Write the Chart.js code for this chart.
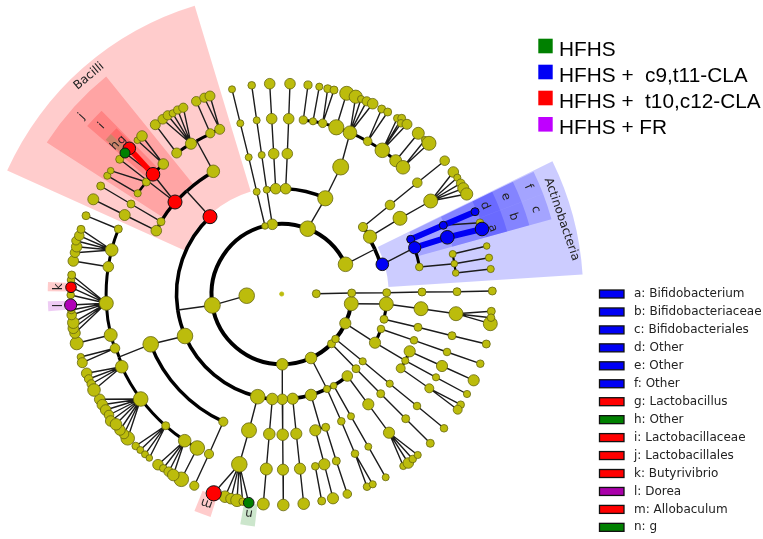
<!DOCTYPE html>
<html>
<head>
<meta charset="utf-8">
<title>Cladogram</title>
<script src="https://cdn.jsdelivr.net/npm/chart.js@4"></script>
<style>
html, body { margin: 0; padding: 0; background: #fff; }
canvas { display: block; filter: blur(.4px); }
</style>
</head>
<body>
<canvas id="clado" width="763" height="539"></canvas>
<script>
// clade rows: id, parent, x, y, size, one list per ring
const centreNodes = [
  ["root", null, 281.7, 294, 1.8],
  ["A", null, 246.7, 295.7, 7.5], ["B", null, 316.3, 293.7, 3.7]
];
const ring1Nodes = [
  ["p1", "A", 212.3, 305.3, 7.7], ["p2", null, 282.3, 364.3, 5.5], ["p3", null, 311, 358, 5.5],
  ["p4", null, 331.5, 343.8, 3.7], ["p5", null, 335.5, 339, 3.5], ["p6", null, 345.3, 323.3, 5.3],
  ["p7", null, 351.3, 303.7, 6.7], ["p8", "B", 351.7, 293, 3.7], ["p9", null, 345.5, 264.3, 7],
  ["p10", null, 307.7, 228.7, 7.5], ["p11", null, 272.3, 224.3, 5], ["p12", null, 265, 226, 3]
];
const ring2Nodes = [
  ["c1", "p12", 256.7, 191.7, 3.2], ["c2", "p11", 266.7, 189.7, 3.2], ["c3", null, 275.7, 188.7, 5],
  ["c4", null, 285.7, 188.7, 5], ["c5", "p10", 325.3, 198.3, 7.3], ["c6", null, 363, 227, 4.3],
  ["c7", null, 370, 236.7, 6.3], ["cj", "p9", 373.3, 250, 0], ["c8", null, 382.3, 264.3, 6],
  ["c9", "p8", 386.7, 292.7, 3.7], ["c10", "p7", 386.3, 304, 6.7], ["c11", null, 384, 319.3, 3.7],
  ["c12", null, 381, 329, 3.5], ["c13", "p6", 375, 342.7, 5.3], ["c14", null, 347.3, 376, 5],
  ["c15", null, 333.7, 385.7, 3], ["c16", "p3", 327, 389, 3.3], ["c17", null, 311, 395, 5.5],
  ["c18", null, 292.7, 398.7, 5.3], ["c19", "p2", 282.3, 399.3, 5], ["c20", null, 272.3, 399, 5.5],
  ["c21", null, 257.7, 396.7, 7], ["c22", null, 185, 336, 7.5], ["cj2", "p1", 178, 310, 0],
  ["c23", null, 210, 216.7, 6.7], ["c24", "p4", 356, 368.7, 3.7], ["c25", "p5", 362.7, 361.3, 3.3]
];
const ring3Nodes = [
  ["o1", "c1", 248.7, 157.3, 3.2], ["o2", "c2", 261.7, 155, 3.2], ["o3", "c3", 273.7, 153.7, 5],
  ["o4", "c4", 287.3, 153.7, 5], ["o5", "c5", 340.7, 167, 7.7], ["o6", "c6", 390, 205, 4.5],
  ["o7", "c7", 400, 218.3, 6.7], ["o8", null, 410.7, 239.3, 3.7], ["o9", "c8", 414.7, 247.7, 5.8],
  ["o10", null, 419.3, 267, 3.5], ["o11", "c9", 422, 292, 3.7], ["o12", "c10", 421, 308.7, 6.7],
  ["o13", "c11", 418, 327.3, 3.7], ["o14", "c12", 414, 340.3, 3.5], ["o15", null, 409.7, 351.3, 5.3],
  ["o16", "c13", 405.3, 360.7, 3.3], ["o17", null, 400.7, 368.3, 4.2], ["o18", "c14", 368.3, 404.3, 5.3],
  ["o19", "c15", 351, 416.3, 3.2], ["o20", "c16", 341.3, 421.3, 3.5], ["o21", "c24", 380.7, 393.7, 3.7],
  ["o22", "c25", 389.7, 383.7, 3.3], ["o23", null, 325.7, 427.3, 3.7], ["oj", "c17", 320.5, 428, 0],
  ["o24", null, 315.3, 430.3, 5.3], ["o25", "c18", 296.3, 433.7, 5.3], ["o26", "c19", 282.7, 434.7, 5.5],
  ["o27", "c20", 269.3, 434, 5.5], ["o28", "c21", 249, 430.3, 7.2], ["o29", null, 223.3, 421.7, 4.3],
  ["o30", "c22", 150.7, 344.3, 7.5], ["o31", null, 156.3, 230.7, 5], ["o32", null, 161, 221.7, 3.7],
  ["o33", null, 175, 202, 6.7], ["oj2", "c23", 187, 191.5, 0], ["o34", null, 213.3, 171.3, 6]
];
const ring4Nodes = [
  ["f1", "o1", 240.3, 123.3, 3.2], ["f2", "o2", 256.7, 120.3, 3.2], ["f3", "o3", 271.7, 118.7, 5],
  ["f4", "o4", 288.7, 118.7, 5], ["t1", null, 303.3, 120, 3.8], ["t2", null, 313, 121.3, 3.3],
  ["t3", null, 322.7, 123.3, 4], ["t4", null, 336.3, 127.3, 7.3], ["t5", "o5", 350, 132.7, 6.5],
  ["t6", null, 367.7, 141.3, 4], ["t7", null, 382.3, 150.3, 7], ["t8", null, 395.7, 160.7, 5.7],
  ["t9", null, 403, 167.3, 6.5], ["f5", "o6", 417.3, 182.7, 4.5], ["f6", "o7", 430.7, 201, 6.7],
  ["f7", "o8", 443.3, 225.3, 3.7], ["f8", "o9", 447.3, 237.3, 6.5], ["f9", null, 452.7, 254, 3.2],
  ["f10", "o10", 454.3, 263.7, 3], ["f11", null, 455.7, 273, 3], ["f12", "o11", 457, 291.7, 3.7],
  ["f13", "o12", 456, 313.7, 6.7], ["f14", "o13", 452, 335.7, 3.7], ["f15", "o14", 447, 352, 3.5],
  ["f16", "o15", 442, 366, 5.3], ["f17", "o16", 436, 377.3, 3.3], ["f18", "o17", 429.3, 388.3, 4.2],
  ["f19", "o21", 405.7, 418.7, 3.7], ["f20", "o22", 417, 406, 3.5], ["f21", "o18", 389, 432.7, 5.3],
  ["f22", "o19", 368.3, 446.7, 3.2], ["f23", "o20", 355, 453.7, 3.5], ["f24", "o23", 336.3, 461, 3.7],
  ["f25", "o24", 324.3, 464.3, 5.3], ["f26", null, 315.3, 466.3, 3.5], ["f27", "o25", 300, 468.7, 5.3],
  ["f28", "o26", 283, 469.7, 5.3], ["f29", "o27", 266.3, 469, 5.7], ["f30", "o28", 239.3, 464.3, 7.5],
  ["f31", "o29", 209, 454, 4.3], ["f32", null, 197.3, 448, 7], ["f33", null, 184.7, 440.7, 6],
  ["f34", null, 165.7, 425.7, 3.7], ["f35", null, 140.7, 399, 7], ["f36", null, 121.7, 366.7, 6],
  ["fj", "o30", 120, 356.7, 0], ["f37", null, 115, 348.3, 4.5], ["f38", null, 110.7, 335, 6.2],
  ["f39", null, 106.3, 303.3, 6.7], ["f40", null, 108.3, 266.7, 5], ["f41", null, 111.7, 250, 6],
  ["f42", null, 118.3, 229, 3.7], ["f43", "o31", 124.7, 215, 5.2], ["f44", "o32", 131, 204, 3.7],
  ["f45", null, 137.7, 193.3, 3.3], ["f46", null, 146.3, 182, 3.7], ["f47", "o33", 153, 174.3, 6.5],
  ["f48", null, 163.3, 164, 5], ["f49", null, 176.7, 153, 4.7], ["f50", null, 191, 143.7, 5.3],
  ["fj2", "o34", 197, 141.5, 0], ["f51", null, 210.3, 133.3, 4.3], ["f52", null, 219.7, 129.3, 4.7]
];
const ring5Nodes = [
  ["g1", "f1", 232, 89.3, 3.2], ["g2", "f2", 251.7, 85.3, 3.5], ["g3", "f3", 269.7, 83.7, 5],
  ["g4", "f4", 290, 83.7, 5], ["g5", "t1", 308, 85, 3.8], ["g6", "t2", 319.3, 86.7, 3.3],
  ["g7", "t3", 327.7, 88.7, 3.7], ["g8", "t3", 334, 90, 3.7], ["g9", "t4", 346.7, 93.3, 6.7],
  ["g10", "t5", 355.7, 96.7, 6.3], ["g11", "t5", 361, 99, 3.2], ["g12", "t5", 366.7, 101.3, 4.3],
  ["g13", "t5", 372.7, 103.7, 5], ["g14", "t6", 381.7, 109, 3.7], ["g15", "t6", 387.7, 112, 3.7],
  ["g16", "t7", 397.3, 118.3, 3.5], ["g17", "t7", 401.7, 118.3, 3.7], ["g18", "t7", 401, 123.3, 3.5],
  ["g19", "t7", 407, 124.3, 4.7], ["g20", "t8", 418.3, 133.3, 5.7], ["g21", "t9", 425, 140, 3.3],
  ["g22", "t9", 429, 143.3, 6.7], ["g23", "f5", 444.7, 160.7, 4.5], ["g24", "f6", 453.3, 172, 5],
  ["g25", "f6", 457.3, 177.7, 3.3], ["g26", "f6", 460.7, 183.3, 4], ["g27", "f6", 463.3, 188.3, 5.3],
  ["g28", "f6", 466.7, 194, 5.8], ["g29", "f7", 480, 222.7, 3.5], ["g30", "f7", 475, 211.7, 3.7],
  ["g31", "f8", 482, 229, 6.5], ["g32", "f9", 486.7, 246, 3], ["g33", "f10", 489, 257.7, 3.3],
  ["g34", "f11", 490.7, 269, 3.3], ["g35", "f12", 492.3, 291, 3.7], ["g36", "f13", 490.3, 323.7, 6.7],
  ["g37", "f13", 491.3, 311.3, 3.7], ["g38", "f13", 491, 317.7, 3.5], ["g39", "f14", 486.3, 344, 3.7],
  ["g40", "f15", 480.3, 363.7, 3.5], ["g41", "f16", 473.7, 380.3, 5.3], ["g42", "f17", 467, 394, 3.3],
  ["g43", "f18", 460.7, 404.7, 3.5], ["g44", "f18", 457.7, 409.7, 4.2], ["g45", "f19", 430.3, 443.3, 3.7],
  ["g46", "f20", 444, 428.3, 3.5], ["g47", "f21", 403.3, 466, 3.3], ["g48", "f21", 408.3, 463, 5],
  ["g49", "f21", 412.7, 459, 3.5], ["g50", "f21", 417.7, 455, 3.3], ["g51", "f22", 385.7, 477.3, 3.2],
  ["g52", "f23", 367, 486.7, 3.5], ["g53", "f23", 372.7, 484.3, 3.3], ["g54", "f24", 347.3, 494, 4],
  ["g55", "f25", 333, 498.3, 5.3], ["g56", "f26", 321.7, 501, 3.7], ["g57", "f27", 303.7, 503.7, 5.5],
  ["g58", "f28", 283.3, 505, 5.5], ["g59", "f29", 263.3, 504, 5.7],
  ["g60", "f30", 225, 496.7, 5.5], ["g61", "f30", 231, 498.7, 5], ["g62", "f30", 237, 500.3, 6],
  ["g63", "f30", 242.7, 501.7, 3.5], ["m", "f30", 213.7, 493.3, 7.3], ["n", "f30", 248.7, 502.7, 5],
  ["g64", "f31", 194.3, 485.7, 4.3], ["g65", "f32", 181.3, 479.3, 7], ["g66", "f33", 158, 464.7, 5],
  ["g67", "f33", 163.3, 468.3, 3.5], ["g68", "f33", 168.7, 471.7, 4.5], ["g69", "f33", 173.3, 475, 5.5],
  ["g70", "f34", 135.7, 446, 3.5], ["g71", "f34", 140.3, 450, 3.2], ["g72", "f34", 145, 454.3, 3.2],
  ["g73", "f34", 149.3, 458, 3], ["g74", "f35", 99.7, 399.3, 5], ["g75", "f35", 102.3, 404.7, 5],
  ["g76", "f35", 105.7, 410, 5], ["g77", "f35", 109, 415, 4.5], ["g78", "f35", 110.7, 421, 5],
  ["g79", "f35", 127.7, 438.3, 6.5], ["g80", "f35", 124, 434, 4.5], ["g81", "f35", 120, 430, 5],
  ["g82", "f35", 116, 424.3, 5.5], ["g83", "f36", 86.7, 373.3, 5], ["g84", "f36", 88.7, 379, 4],
  ["g85", "f36", 91.3, 384, 4], ["g86", "f36", 94, 390, 6], ["g87", "f37", 80.7, 357, 3.3],
  ["g88", "f37", 82.3, 362.7, 4.7], ["g89", "f38", 76.7, 343.3, 6.2], ["g90", "f39", 75, 333, 5],
  ["g91", "f39", 73.3, 328.3, 5], ["g92", "f39", 73.3, 322.7, 5.5], ["g93", "f39", 71.7, 315, 4.5],
  ["g94", "f39", 71.3, 310, 3.5], ["g95", "f39", 70.7, 295, 3.5], ["g96", "f39", 71, 280, 3.5],
  ["g97", "f39", 71.7, 275, 3.7], ["k", "f39", 71, 287.3, 5], ["l", "f39", 70.7, 305, 5.8],
  ["g98", "f40", 73.3, 261, 5], ["g99", "f41", 75, 252.7, 4.5], ["g100", "f41", 76.7, 246.7, 5],
  ["g101", "f41", 76, 240.7, 4], ["g102", "f41", 79.3, 235.7, 4.5], ["g103", "f41", 81, 229.3, 3.7],
  ["g104", "f42", 86, 215.7, 3.7], ["g105", "f43", 93.3, 199.3, 5.2], ["g106", "f44", 100.7, 186, 3.7],
  ["g107", "f45", 107.3, 175.7, 3.3], ["g108", "f46", 110.7, 170.7, 3], ["g109", "o33", 119.7, 159.3, 3.7],
  ["g", "f47", 129.3, 148.3, 6], ["h", "f47", 125, 153, 4.7], ["g110", "f48", 137.3, 140.3, 3],
  ["g111", "f48", 142, 136, 5], ["g112", "f49", 155.3, 124.7, 4.7], ["g113", "f50", 162.7, 119.3, 4.5],
  ["g114", "f50", 167.7, 115.3, 4.3], ["g115", "f50", 172.7, 113.3, 3.3], ["g116", "f50", 177.7, 110, 3.8],
  ["g117", "f50", 183.3, 107.7, 4.3], ["g118", "f51", 196.3, 101.3, 4.5], ["g119", "f52", 204.3, 97.7, 4.3],
  ["g120", "f52", 210, 96, 4.7]
];

// thick arcs along a ring, joined in order
const arcChains = [
  ["p9", "p10", "p11", "p12", "p1", "p2", "p3", "p4", "p5", "p6", "p7"],
  ["c6", "c7", "cj", "c8"], ["c2", "c3", "c4", "c5"], ["c10", "c11"], ["c12", "c13"],
  ["c23", "cj2", "c22", "c21", "c20", "c19", "c18", "c17", "c16", "c15", "c14"],
  ["o34", "oj2", "o33", "o32", "o31"], ["o30", "o29"], ["o17", "o16", "o15"],
  ["o9", "o10"], ["o24", "oj", "o23"],
  ["t1", "t2", "t3", "t4", "t5", "t6", "t7", "t8", "t9"],
  ["f42", "f41", "f40", "f39", "f38", "f37", "fj", "f36", "f35", "f34", "f33", "f32"],
  ["f45", "f46"], ["f47", "f48"], ["f49", "f50", "fj2", "f51", "f52"],
  ["f9", "f10", "f11"], ["f25", "f26"]
];
const arcWidths = [4, 3.6, 3.6, 3, 3, 3.6, 3.4, 3.4, 3, 3, 2.4, 3, 3, 2.6, 3, 3, 2.2, 2];

const blueLinks = [["o8", "f7"], ["f7", "g30"], ["o9", "f8"], ["f8", "g31"], ["o8", "o9"]];
const redLinks = [["f47", "g"]];
const blueNodes = ["c8", "o8", "o9", "f7", "f8", "g30", "g31"];
const redNodes = ["c23", "o33", "f47", "g", "k", "m"];
const greenNodes = ["h", "n"];
const purpleNodes = ["l"];

// highlighted sectors: ring radii and angles in degrees, clockwise from +x
const wedgeGroup = ["red", "red", "red", "red", "green", "red", "purple", "red", "green",
  "blue", "blue", "blue", "blue", "blue", "blue", "blue"];
const wedgeInner = [107, 142, 177, 212, 212, 212, 212, 212, 212, 107, 142, 142, 177, 177, 212, 212];
const wedgeOuter = [301, 279.5, 257, 234, 234, 234, 234, 234, 234, 301.5, 280, 280, 257, 257, 234, 234];
const wedgeFrom = [204.2, 212.8, 220.8, 223.1, 221.2, 180.65, 175.8, 107.7, 96.6, 333.9, 334.1, 339, 334.1, 339, 334.1, 339];
const wedgeTo = [253.2, 231.1, 225.5, 225.1, 223.1, 182.95, 178.2, 111.9, 100.2, 356.3, 339, 344.5, 339, 344.5, 339, 344.5];

const labelText = ["Bacilli", "Actinobacteria", "j", "i", "h", "g", "f", "c", "e", "b", "d", "a", "k", "l", "m", "n"];
const labelX = [89, 561.7, 81.7, 101.7, 115, 121.7, 528.3, 535.7, 505.7, 513.3, 485, 492.7, 59.3, 59.3, 206.7, 249];
const labelY = [76.3, 219.3, 116.3, 126, 145.7, 140, 186.7, 209.3, 196.7, 216.7, 205.7, 228.3, 286.7, 305.7, 503.3, 513.3];
const labelAngle = [-40, 71, -48, -47, -47, -47, 66.5, 72, 66.5, 72, 66.5, 72, -90, -90, 199, 189];

const groupNames = ["HFHS", "HFHS +  c9,t11-CLA", "HFHS +  t10,c12-CLA", "HFHS + FR"];
const groupKeys = ["green", "blue", "red", "violet"];
const groupBaselines = [55.7, 81.7, 107.7, 134];

const taxaNames = ["a: Bifidobacterium", "b: Bifidobacteriaceae", "c: Bifidobacteriales", "d: Other", "e: Other",
  "f: Other", "g: Lactobacillus", "h: Other", "i: Lactobacillaceae", "j: Lactobacillales", "k: Butyrivibrio",
  "l: Dorea", "m: Allobaculum", "n: g"];
const taxaKeys = ["blue", "blue", "blue", "blue", "blue", "blue", "red", "green", "red", "red", "red", "purple", "red", "green"];

const solid = { blue: "#0000f5", red: "#ff0000", green: "#008000", purple: "#aa00aa", violet: "#bf00ff" };
const tint = { blue: "rgba(0,0,255,.2)", red: "rgba(255,0,0,.2)", green: "rgba(0,128,0,.2)", purple: "rgba(170,0,200,.2)" };
const centre = [281.7, 294];

const allNodes = [...centreNodes, ...ring1Nodes, ...ring2Nodes, ...ring3Nodes, ...ring4Nodes, ...ring5Nodes];
const byId = {};
allNodes.forEach(n => byId[n[0]] = { x: n[2], y: n[3] });

function colourOf(id) {
  if (blueNodes.includes(id)) return solid.blue;
  if (redNodes.includes(id)) return solid.red;
  if (greenNodes.includes(id)) return solid.green;
  if (purpleNodes.includes(id)) return "#b000b8";
  return "#bcbc0c";
}
function isMarked(id) {
  return colourOf(id) !== "#bcbc0c";
}

// parent links go in one line dataset, broken up with null points
const thinData = [];
allNodes.forEach(n => {
  if (n[1]) thinData.push(byId[n[1]], byId[n[0]], { x: null, y: null });
});
function linkData(pairs) {
  const out = [];
  pairs.forEach(p => out.push(byId[p[0]], byId[p[1]], { x: null, y: null }));
  return out;
}

const cladePlugin = {
  id: "clade",
  beforeDatasetsDraw(chart) {
    const ctx = chart.ctx, sx = chart.scales.x, sy = chart.scales.y;
    const cx = sx.getPixelForValue(centre[0]), cy = sy.getPixelForValue(centre[1]);
    ctx.save();
    // sectors
    wedgeGroup.forEach((g, i) => {
      const r0 = sx.getPixelForValue(centre[0] + wedgeInner[i]) - cx;
      const r1 = sx.getPixelForValue(centre[0] + wedgeOuter[i]) - cx;
      const a0 = wedgeFrom[i] * Math.PI / 180, a1 = wedgeTo[i] * Math.PI / 180;
      ctx.beginPath();
      ctx.arc(cx, cy, r1, a0, a1);
      ctx.arc(cx, cy, r0, a1, a0, true);
      ctx.closePath();
      ctx.fillStyle = tint[g];
      ctx.fill();
    });
    // ring arcs
    ctx.strokeStyle = "#000";
    arcChains.forEach((chain, c) => {
      ctx.lineWidth = arcWidths[c];
      for (let i = 0; i < chain.length - 1; i++) {
        const a = byId[chain[i]], b = byId[chain[i + 1]];
        const ax = sx.getPixelForValue(a.x) - cx, ay = sy.getPixelForValue(a.y) - cy;
        const bx = sx.getPixelForValue(b.x) - cx, by = sy.getPixelForValue(b.y) - cy;
        const r = (Math.hypot(ax, ay) + Math.hypot(bx, by)) / 2;
        const a0 = Math.atan2(ay, ax), a1 = Math.atan2(by, bx);
        let d = a1 - a0;
        while (d > Math.PI) d -= 2 * Math.PI;
        while (d < -Math.PI) d += 2 * Math.PI;
        ctx.beginPath();
        ctx.arc(cx, cy, r, a0, a0 + d, d < 0);
        ctx.stroke();
      }
    });
    ctx.restore();
  },
  afterDatasetsDraw(chart) {
    const ctx = chart.ctx, sx = chart.scales.x, sy = chart.scales.y;
    ctx.save();
    ctx.textAlign = "center";
    ctx.textBaseline = "middle";
    ctx.fillStyle = "#222";
    ctx.font = "12px 'DejaVu Sans'";
    labelText.forEach((t, i) => {
      ctx.save();
      ctx.translate(sx.getPixelForValue(labelX[i]), sy.getPixelForValue(labelY[i]));
      ctx.rotate(labelAngle[i] * Math.PI / 180);
      ctx.fillText(t, 0, 0);
      ctx.restore();
    });
    // group legend, top right
    ctx.textAlign = "left";
    ctx.textBaseline = "alphabetic";
    ctx.font = "20.8px 'Liberation Sans'";
    groupNames.forEach((t, i) => {
      ctx.fillStyle = solid[groupKeys[i]];
      ctx.fillRect(sx.getPixelForValue(538.3), sy.getPixelForValue(groupBaselines[i] - 17), 14.4, 14.6);
      ctx.fillStyle = "#000";
      ctx.fillText(t, sx.getPixelForValue(559), sy.getPixelForValue(groupBaselines[i]));
    });
    // taxa legend, bottom right
    ctx.textBaseline = "middle";
    ctx.font = "12px 'DejaVu Sans'";
    taxaNames.forEach((t, i) => {
      const y = sy.getPixelForValue(294 + i * 17.95);
      ctx.fillStyle = solid[taxaKeys[i]];
      ctx.strokeStyle = "#111";
      ctx.lineWidth = 1.3;
      ctx.fillRect(sx.getPixelForValue(599.5), y - 4, 24.5, 8);
      ctx.strokeRect(sx.getPixelForValue(599.5), y - 4, 24.5, 8);
      ctx.fillStyle = "#222";
      ctx.fillText(t, sx.getPixelForValue(634), y);
    });
    ctx.restore();
  }
};

new Chart(document.getElementById("clado").getContext("2d"), {
  type: "scatter",
  data: {
    datasets: [
      {
        label: "clades",
        order: 0,
        data: allNodes.map(n => ({ x: n[2], y: n[3] })),
        // outline sits outside the read size
        pointRadius: allNodes.map(n => n[4] === 0 ? 0 : n[4] + 0.3),
        pointBackgroundColor: allNodes.map(n => colourOf(n[0])),
        pointBorderColor: allNodes.map(n => isMarked(n[0]) ? "#111" : n[0] === "root" ? "#bcbc0c" : "#66660f"),
        pointBorderWidth: allNodes.map(n => n[4] === 0 ? 0 : isMarked(n[0]) ? 1 : 0.8),
        showLine: false
      },
      { label: "blue links", order: 1, data: linkData(blueLinks), showLine: true, borderColor: solid.blue, borderWidth: 6, pointRadius: 0 },
      { label: "red links", order: 1, data: linkData(redLinks), showLine: true, borderColor: solid.red, borderWidth: 5.5, pointRadius: 0 },
      { label: "links", order: 2, data: thinData, showLine: true, borderColor: "#1c1c1c", borderWidth: 1.4, pointRadius: 0 }
    ]
  },
  options: {
    responsive: false,
    animation: false,
    events: [],
    layout: { padding: 0, autoPadding: false },
    plugins: { legend: { display: false }, tooltip: { enabled: false } },
    scales: {
      x: { type: "linear", display: false, min: 0, max: 763 },
      y: { type: "linear", display: false, min: 0, max: 539, reverse: true }
    }
  },
  plugins: [cladePlugin]
});
</script>
</body>
</html>
